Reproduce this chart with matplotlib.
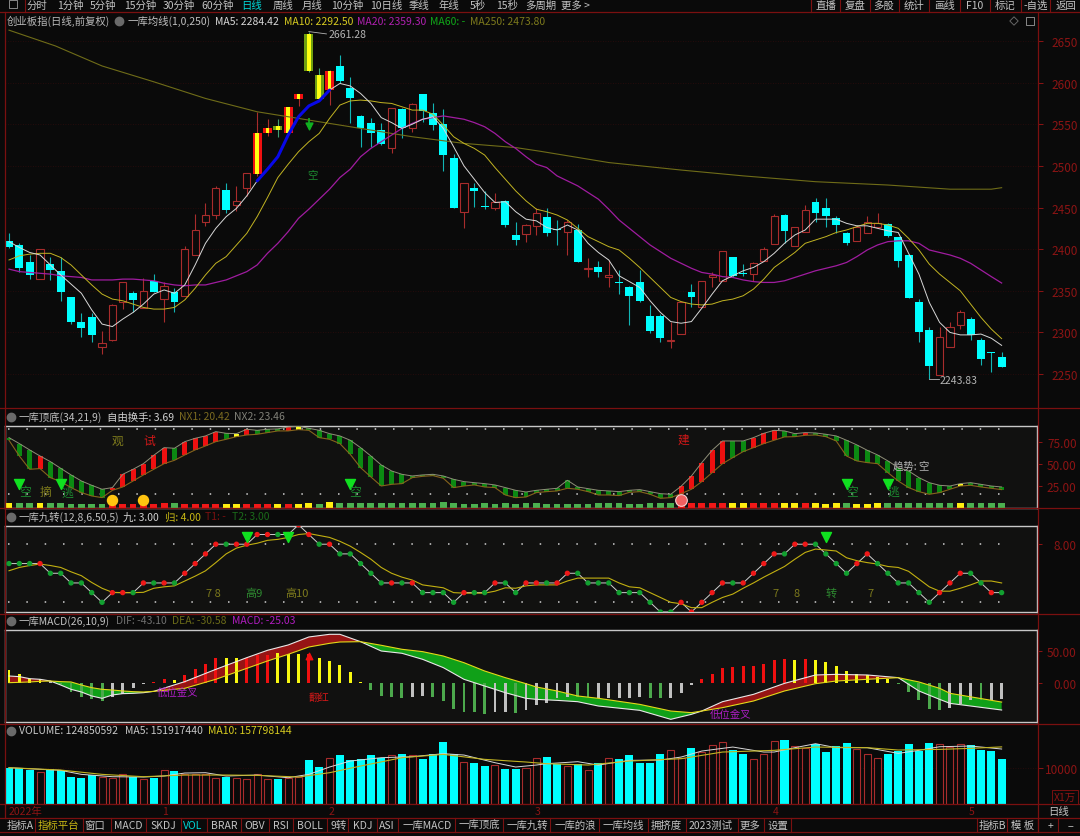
import matplotlib
matplotlib.use('Agg')
import matplotlib.pyplot as plt

plt.rcParams['font.family'] = ['Noto Sans CJK SC', 'DejaVu Sans']

opens = [2410,2405,2385,2364,2382,2374,2342,2313,2319,2282,
         2291,2337,2347,2329,2362,2340,2348,2344,2393,2433,
         2441,2471,2453,2474,2490,2540,2543,2540,2580,2614,
         2580,2591,2620,2593,2560,2551,2543,2521,2568,2546,
         2586,2564,2550,2509,2445,2473,2452,2450,2458,2417,
         2418,2428,2438,2424,2421,2423,2376,2378,2366,2360,
         2354,2360,2320,2320,2290,2298,2348,2330,2366,2362,
         2390,2371,2370,2386,2406,2441,2404,2421,2457,2450,
         2437,2419,2410,2419,2427,2430,2414,2393,2337,2303,
         2249,2282,2309,2316,2291,2276,2271]
closes = [2403,2377,2369,2400,2375,2349,2312,2305,2297,2287,
          2333,2360,2339,2350,2349,2356,2336,2400,2423,2441,
          2473,2447,2458,2492,2540,2545,2548,2571,2586,2658,
          2609,2614,2602,2581,2545,2539,2526,2569,2546,2574,
          2566,2549,2513,2450,2480,2470,2451,2457,2429,2411,
          2429,2444,2419,2423,2432,2384,2377,2373,2369,2359,
          2344,2338,2302,2293,2291,2336,2342,2362,2369,2398,
          2368,2370,2383,2400,2440,2422,2427,2447,2444,2440,
          2429,2407,2427,2433,2431,2416,2386,2341,2301,2260,
          2294,2306,2324,2297,2268,2275,2259]
highs = [2419,2407,2393,2400,2391,2391,2342,2323,2323,2302,
         2334,2361,2350,2365,2370,2361,2353,2404,2442,2455,
         2476,2480,2476,2492,2565,2556,2556,2571,2586,2661.28,
         2618,2615,2633,2607,2561,2557,2551,2569,2569,2575,
         2586,2575,2568,2514,2480,2480,2470,2468,2459,2432,
         2430,2449,2449,2435,2435,2430,2389,2386,2387,2375,
         2356,2375,2333,2322,2313,2336,2358,2362,2372,2398,
         2390,2382,2384,2402,2442,2442,2427,2453,2461,2462,
         2440,2421,2429,2440,2443,2431,2415,2394,2340,2306,
         2306,2313,2327,2319,2293,2276,2277]
lows = [2401,2373,2364,2364,2363,2338,2310,2295,2289,2274,
        2290,2328,2324,2329,2348,2313,2325,2344,2393,2428,
        2436,2443,2446,2464,2488,2536,2535,2540,2572,2613,
        2580,2573,2600,2552,2523,2523,2525,2515,2533,2541,
        2553,2543,2494,2449,2425,2451,2448,2447,2427,2405,
        2409,2417,2416,2405,2393,2384,2366,2366,2355,2346,
        2309,2336,2299,2289,2281,2298,2331,2330,2355,2362,
        2366,2368,2362,2386,2406,2407,2404,2421,2433,2427,
        2419,2405,2410,2419,2427,2415,2378,2341,2288,2243.83,
        2249,2282,2304,2291,2261,2252,2258]
hot_red = [24,25,27,28,31]
hot_green = [26,29,30]

ma5 = [2409,2402,2396,2393,2381,2369,2358,2347,2327,2310,
       2307,2316,2324,2334,2346,2351,2347,2357,2381,2407,
       2425,2439,2449,2464,2482,2496,2511,2537,2559,2572,
       2578,2591,2599,2596,2587,2575,2558,2552,2545,2550,
       2556,2559,2545,2523,2500,2484,2468,2456,2457,2445,
       2436,2434,2426,2423,2429,2423,2407,2396,2387,2368,
       2361,2354,2338,2324,2313,2311,2313,2329,2346,2362,
       2368,2374,2378,2385,2395,2407,2417,2423,2436,2436,
       2436,2431,2428,2428,2425,2422,2420,2395,2370,2336,
       2312,2300,2297,2297,2298,2293,2284.42]
ma10 = [2387,2392,2394,2395,2395,2390,2381,2369,2357,2346,
        2340,2338,2334,2330,2328,2328,2330,2339,2353,2369,
        2383,2391,2405,2419,2439,2462,2486,2502,2517,2529,
        2539,2557,2573,2578,2579,2578,2576,2575,2571,2567,
        2567,2562,2549,2535,2527,2521,2513,2498,2484,2470,
        2458,2448,2445,2441,2435,2425,2415,2409,2403,2399,
        2389,2378,2366,2354,2342,2337,2334,2333,2334,2338,
        2340,2344,2352,2364,2378,2387,2396,2407,2411,2415,
        2420,2423,2427,2431,2431,2429,2425,2413,2399,2382,
        2370,2360,2350,2334,2318,2304,2292.5]
ma20 = [2376,2373,2372,2371,2370,2368,2367,2366,2363,2363,
        2363,2364,2364,2363,2362,2359,2357,2356,2357,2357,
        2360,2363,2368,2373,2381,2395,2407,2421,2437,2448,
        2460,2472,2486,2496,2511,2521,2529,2537,2545,2551,
        2556,2558,2560,2558,2556,2552,2547,2539,2529,2521,
        2511,2502,2498,2488,2482,2476,2468,2460,2448,2435,
        2425,2415,2405,2397,2389,2383,2377,2372,2370,2367,
        2366,2363,2361,2360,2360,2362,2366,2370,2374,2377,
        2380,2384,2391,2399,2405,2409,2410,2410,2407,2399,
        2396,2393,2389,2383,2375,2367,2359.3]
ma250_x = [0,4.5,9,14,19,24,29,34,39,44,49,51.4,58,65,71,78,85,91,95,96]
ma250_y = [2663,2644,2620,2601,2581,2565,2555,2545,2535,2527,2522,2517.5,2504,2495,2488,2481,2477,2472,2472,2473.8]

top_line = [80.0,73.2,66.0,59.1,52.7,45.1,37.6,30.7,25.8,21.3,
            23.2,38.3,44.0,50.4,59.9,68.6,67.9,75.4,79.2,81.9,
            86.8,84.9,84.5,89.5,88.3,89.5,89.9,92.1,92.9,90.6,
            88.3,84.5,81.9,77.0,68.6,59.1,48.9,42.1,38.3,36.4,
            37.6,38.3,36.4,32.6,30.0,28.8,27.7,26.2,23.2,20.1,
            18.2,20.1,21.3,22.4,31.5,23.9,22.0,20.1,19.4,18.6,
            20.1,20.9,18.6,16.3,15.6,24.7,36.4,51.6,65.6,76.2,
            76.2,76.2,80.0,84.9,88.3,87.6,84.5,85.7,85.3,83.8,
            81.9,77.0,71.7,65.6,60.3,53.5,45.9,42.1,34.5,28.8,
            25.8,25.0,27.7,28.8,26.9,25.0,23.9]
bottom_line = [77.0,59.1,44.0,44.8,34.5,30.0,23.2,17.5,13.7,11.8,
               20.1,23.9,30.7,37.6,44.0,50.4,54.2,60.3,66.0,70.5,
               75.4,78.1,81.1,83.0,83.8,85.7,87.6,87.6,89.1,88.3,
               80.0,78.1,73.2,61.0,45.9,35.3,25.0,26.9,27.7,34.5,
               36.0,36.8,33.8,23.2,25.0,26.2,23.9,23.2,14.8,11.8,
               12.5,17.5,18.6,19.4,22.4,21.3,18.6,14.8,14.8,14.1,
               17.8,18.6,15.6,11.0,11.8,16.3,21.3,30.0,40.2,50.4,
               57.3,64.1,68.6,73.2,77.0,80.8,81.1,82.6,83.0,81.1,
               76.2,59.1,53.5,51.6,50.4,40.2,30.7,23.2,18.6,15.6,
               17.5,21.3,25.0,25.8,23.9,22.4,20.9]
band_colors = ('gggrgggggg' 'rrrrrrgrrr' 'rgyrgggryg' 'gggggggggg' 'gggggggggg'
               'gggggggggg' 'gggggrrrrr' 'ggrrrggrgg' 'gggggggggg' 'ggygggg')
square_colors = ('yggygggggg' 'rrrrrrgrrr' 'ryyrrryryy' 'gygggggggg' 'gggggggggg'
                 'gggggggggg' 'gggggrrrrr' 'yyrrryyryy' 'ygyyyggggg' 'ggygggg')
square_heights = [5.4,6.1,6.1,6.1,5.4,5.4,5.0,5.0,5.0,5.0,
                  4.6,4.6,4.6,4.6,5.0,6.1,6.1,5.0,5.0,5.0,
                  5.0,5.0,5.0,5.0,4.6,4.6,4.6,4.6,4.6,5.4,
                  5.0,6.5,6.2,6.2,5.8,5.8,5.8,5.8,5.8,5.8,
                  5.8,5.8,6.5,5.8,5.0,5.0,5.4,5.0,5.4,5.0,
                  5.4,5.8,5.0,5.0,5.0,5.0,5.0,5.8,5.8,5.8,
                  5.0,5.0,5.8,5.8,5.4,5.4,5.4,6.2,6.2,6.2,
                  5.8,5.8,5.4,5.4,6.2,6.2,6.2,6.2,6.2,5.0,
                  6.2,6.2,5.0,5.0,5.4,5.4,5.4,6.2,5.4,6.2,
                  6.2,6.2,6.2,6.2,5.4,5.4,5.4]

nine = [6,6,6,6,5,5,4,4,3,2,
        3,3,3,4,4,4,4,5,6,7,
        8,8,8,8,9,9,9,9,10,9,
        8,8,7,7,6,5,4,4,4,4,
        3,3,3,2,3,3,3,4,4,3,
        4,4,4,4,5,5,4,4,4,3,
        3,3,2,1,1,2,1,2,3,4,
        4,4,5,6,7,7,8,8,8,7,
        6,5,6,7,6,5,4,4,3,2,
        3,4,5,5,4,3,3]
nine_colors = ('gggrgggggg' 'rrgrgrgrrr' 'rgrrrrgrrr' 'grgggggrgr' 'ggggrggrgg'
               'rrgrrggggg' 'gggggrrrrr' 'grrrrgrrgg' 'ggrrgggggg' 'rrrggrg')
back_line = [5.26,5.6,5.8,5.95,5.8,5.6,5.15,4.75,4.05,3.45,
             3.03,3,3,3.03,3.45,3.6,3.7,4.2,4.7,5.25,
             6.1,7,7.6,7.9,8.1,8.4,8.5,8.7,9,9.1,
             8.9,8.7,8.3,7.8,7.15,6.45,5.6,5,4.6,4.3,
             3.8,3.65,3.5,3,2.95,2.95,2.95,3.15,3.5,3.45,
             3.7,3.8,3.8,3.8,4.2,4.5,4.5,4.5,4.5,4,
             3.6,3.5,3,2.5,2,1.85,1.45,1.45,2,2.5,
             2.85,3.45,4,4.6,5.15,5.7,6.45,7.15,7.5,7.4,
             7.3,6.6,6.3,6.1,5.95,5.7,5.6,5.2,4.4,3.6,
             3.15,3.15,3.45,3.8,4.2,4.2,4]

macd = [19.4,13.1,6.3,6.3,2.6,-2.6,-14.7,-22.6,-26.3,-28.9,
        -22.1,-18.4,-8.9,-2.6,1.6,5.3,4.2,12.1,22.1,30.0,
        39.4,38.4,38.4,38.4,43.1,43.1,46.3,44.7,44.7,44.7,
        38.4,34.2,27.9,16.8,1.1,-12.1,-21.0,-22.6,-23.7,-22.1,
        -21.0,-22.1,-28.9,-42.0,-45.7,-46.3,-48.9,-45.7,-46.3,-47.3,
        -43.6,-35.7,-31.5,-24.7,-22.1,-22.6,-22.6,-24.7,-24.7,-24.7,
        -23.7,-22.1,-23.7,-24.7,-23.7,-15.8,-4.2,5.3,14.2,22.6,
        24.7,26.3,26.3,28.9,35.2,36.8,35.2,36.8,35.2,32.6,
        26.3,18.4,13.1,12.1,9.5,6.3,-1.6,-14.2,-27.9,-42.0,
        -43.6,-39.4,-33.1,-27.9,-27.9,-27.9,-25.03]
macd_colors = ('yyyywggggg' 'wwwwrryrrr' 'ryyrrryyyr' 'yyyyyggggw' 'wggggggwwg'
               'wwwwwggwww' 'wwggwwwrrr' 'rrrrrryryy' 'yyyyyygggg' 'gwwwgww')

macd_x = [0,1,2,3,4,5,6,7,8,9,10,11,12,13,14,17,20,23,25,27,29,31,32,34,36,38,40,42,44,46,48,50,51,53,55,57,61,64,66,67,69,72,75,78,80,83,86,88,90,91,96]
dif = [10.5,9.5,6.3,5.3,2.6,-3.7,-10.5,-14.7,-21.0,-24.7,-19.4,-17.3,-16.8,-15.8,-13.7,1.6,21.0,39.4,51.0,59.4,72.0,76.2,76.2,64.6,49.9,46.3,36.8,23.7,5.3,-5.3,-15.8,-24.7,-26.3,-27.9,-30.0,-36.8,-43.6,-57.8,-49.9,-44.7,-30.0,-18.4,-1.1,12.1,13.1,12.1,7.9,-13.1,-26.3,-32.6,-43.1]
dea = [0,0.5,1.1,2.1,2.6,1.6,1.1,-3.7,-7.9,-10.5,-11.6,-13.1,-14.2,-14.7,-13.7,-8.9,5.3,22.6,34.2,44.7,56.2,62.0,64.1,64.6,58.9,52.6,48.9,42.0,31.5,18.4,7.9,-1.6,-6.8,-13.1,-21.0,-24.7,-34.2,-44.7,-47.3,-44.7,-39.4,-28.9,-13.1,-1.6,2.6,5.3,7.9,1.1,-8.9,-16.8,-30.58]

volume = [10000,10000,9350,8890,9720,9350,7500,7040,7870,7410,
          7220,8150,7500,6950,7220,9260,9070,8150,8150,8150,
          7220,7500,7220,6950,8150,6760,6950,7220,7410,12040,
          10280,12590,13430,12130,12320,13430,12780,13430,13700,13430,
          12500,13890,17220,13700,11670,11390,10370,10740,9540,9720,
          10000,12780,12960,11110,10460,10930,9350,11390,12590,12320,
          13430,11390,11390,13890,14820,12780,15560,14350,16210,17220,
          14820,13700,12320,13700,17410,17590,16020,15560,16480,14350,
          16020,16760,15280,13700,12690,13700,14630,16480,14630,16760,
          16480,15830,16480,16300,14910,14630,12485]
vol_up = [3,9,10,11,13,15,17,18,19,20,22,23,24,25,27,28,31,37,39,44,47,50,51,54,56,58,64,65,67,68,69,72,73,74,76,77,82,83,84,90,91,92]
vol_ma5_x = [0,5,7,10,13,15,17,19,21,24,27,29,31,33,36,39,42,44,47,49,51,52,55,57,60,63,65,67,70,73,74,76,78,80,83,86,88,90,93,96]
vol_ma5_y = [10000,9260,8150,7500,7410,7690,8520,8610,7690,7960,7220,8150,10190,11850,12780,13060,13890,13520,11390,10190,10740,11110,11670,10740,12040,12130,12960,14630,15740,14350,14350,15560,16670,15560,15560,13980,14820,15830,16020,15192]
vol_ma10_x = [0,5,9,13,17,21,24,28,31,34,38,42,46,50,52,56,60,65,69,74,78,83,86,90,93,96]
vol_ma10_y = [10000,9350,8150,7500,7960,7960,7870,7410,8610,10460,12780,13700,12320,11580,11110,10740,11850,12500,14350,14820,15740,15560,14910,15090,15370,15780]

price_ticks = [2650,2600,2550,2500,2450,2400,2350,2300,2250]
top_tabs = [('分时',37),('1分钟',70),('5分钟',103),('15分钟',140),('30分钟',179),('60分钟',218),('日线',252),
            ('周线',283),('月线',312),('10分钟',347),('10日线',386),('季线',419),('年线',449),('5秒',478),('15秒',507),
            ('多周期',541),('更多 >',575),('直播',826),('复盘',855),('多股',884),('统计',914),('画线',944),('F10',975),
            ('标记',1005),('-自选',1036),('返回',1066)]
top_seps = [25,811,840,870,899,929,960,990,1021,1050]
bottom_tabs = [('指标A',20),('指标平台',58),('窗口',95),('MACD',128),('SKDJ',163),('VOL',193),('BRAR',224),('OBV',255),
               ('RSI',281),('BOLL',310),('9转',339),('KDJ',363),('ASI',387),('一库MACD',427),('一库顶底',479),('一库九转',527),
               ('一库的浪',575),('一库均线',623),('拥挤度',666),('2023测试',711),('更多',750),('设置',778),
               ('指标B',992),('模 板',1023),('+',1050),('−',1070)]
bottom_seps = [35,83,111,146,181,207,241,269,293,327,348,377,398,455,503,550,599,648,686,738,764,791,977,1007,1038,1058]
month_labels = [('2022年',25),('1',165),('2',331),('3',538),('4',776),('5',972)]

BG = '#0a0a0a'
PANEL = '#111110'
AXIS_RED = '#8c1414'
LINE_RED = '#7a1010'
CYAN = '#00ffff'
UP = '#a82c2c'
GRAY = '#b4b4b4'
OLIVE = '#7d7a1c'
FS = 7.5

W, H = 1080, 837
fig = plt.figure(figsize=(W / 100, H / 100), dpi=100, facecolor=BG)
xs = list(range(len(closes)))


def panel(y0, y1, x0=5, x1=1038):
    ax = fig.add_axes([x0 / W, 1 - y1 / H, (x1 - x0) / W, (y1 - y0) / H])
    ax.set_facecolor(BG)
    ax.set_xlim((x0 - 9) / 10.34, (x1 - 9) / 10.34)
    ax.set_xticks([])
    for s in ax.spines.values():
        s.set_visible(False)
    return ax


def right_ticks(ax, ticks, labels):
    ax.set_yticks(ticks)
    ax.set_yticklabels(labels)
    ax.tick_params(axis='y', left=False, labelleft=False, right=True, labelright=True,
                   colors=AXIS_RED, length=3.5, width=0.7, pad=25, labelsize=8.5)
    for t in ax.yaxis.get_major_ticks():
        t.label2.set_ha('right')


def frame(ax):
    ax.set_facecolor(PANEL)
    for s in ax.spines.values():
        s.set_visible(True)
        s.set_color('#c8c8c8')
        s.set_linewidth(1.0)


# main price panel
ax = panel(27, 408)
ax.set_ylim(2210.4, 2668)
for p in price_ticks:
    ax.axhline(p, color='#2e0c0c', lw=0.6, ls=(0, (1, 2)), zorder=0)
for i in xs:
    o, c, h, l = opens[i], closes[i], highs[i], lows[i]
    low_b, high_b = min(o, c), max(o, c)
    if i in hot_red or i in hot_green:
        edge = '#f01010' if i in hot_red else '#6f9f10'
        ax.vlines(i, l, h, color=UP if i in hot_red else '#3f9f70', lw=0.8, zorder=2)
        ax.bar(i, high_b - low_b, bottom=low_b, width=0.85, color=edge, zorder=3)
        ax.bar(i, high_b - low_b, bottom=low_b, width=0.36, color='#ffff10', zorder=4)
    elif c >= o:
        ax.vlines(i, l, h, color=UP, lw=0.8, zorder=2)
        ax.bar(i, max(high_b - low_b, 1.2), bottom=low_b, width=0.7, facecolor=BG,
               edgecolor=UP, lw=0.8, zorder=3)
    else:
        ax.vlines(i, l, h, color='#12b4b4', lw=0.8, zorder=2)
        ax.bar(i, max(high_b - low_b, 1.2), bottom=low_b, width=0.76, color=CYAN, zorder=3)
ax.plot(ma250_x, ma250_y, color='#6f6c18', lw=0.8, zorder=5)
ax.plot(xs, ma20, color='#a01ca0', lw=0.9, zorder=5)
ax.plot(xs, ma10, color='#c2b422', lw=0.7, zorder=5)
ax.plot(xs, ma5, color='#d8d8d8', lw=0.7, zorder=6)
ax.plot(xs[24:32], ma5[24:32], color='#0808e8', lw=2.2, zorder=7, solid_capstyle='round')
ax.text(30.9, 2658.5, '2661.28', color=GRAY, fontsize=FS, va='center', zorder=8)
ax.plot([29, 30.7], [2661.28, 2658.5], color=GRAY, lw=0.6, zorder=8)
ax.text(91.8, 2243.33, '2243.83', color=GRAY, fontsize=FS, va='center', ha='center', zorder=8)
ax.plot([89, 89.9], [2243.83, 2243.83], color=GRAY, lw=0.6, zorder=8)
ax.scatter([29], [2548], marker='v', s=24, color='#10b020', zorder=8)
ax.vlines(29, 2548, 2558, color='#10b020', lw=1.2, zorder=8)
ax.text(29.3, 2490, '空', color='#1c8a30', fontsize=FS, ha='center', va='center', zorder=8)
right_ticks(ax, price_ticks, [str(p) for p in price_ticks])

# 一库顶底 panel
ax2 = panel(427, 509, x1=1037)
ax2.set_ylim(0, 93.2)
frame(ax2)
ax2.hlines([90, 16], -0.1, 96.5, color='#d0d0d0', lw=1.1, ls=(0, (1, 11)), zorder=1)
palette = {'g': '#0b8a12', 'r': '#ee1010', 'y': '#ffff20'}
for i in xs:
    ax2.bar(i, top_line[i] - bottom_line[i], bottom=bottom_line[i], width=0.48,
            color=palette[band_colors[i]], zorder=3)
ax2.plot(xs, top_line, color='#8f8f78', lw=0.7, zorder=4)
ax2.plot(xs, bottom_line, color='#86641c', lw=0.8, zorder=4)
square_palette = {'g': '#4cb050', 'r': '#f01818', 'y': '#ffee10'}
ax2.bar(xs, square_heights, width=0.66, color=[square_palette[c] for c in square_colors], zorder=3)
ax2.scatter([10, 13], [8.7, 8.7], s=52, color='#ffc410', zorder=5)
ax2.scatter([65], [8.7], s=70, color='#f06060', edgecolor='#f8d0d0', lw=0.8, zorder=5)
ax2.scatter([1, 5, 33, 81, 85], [27, 27, 27, 27, 27], marker='v', s=52, color='#10e020', zorder=5)
for label, i, v, col in [('空', 1.5, 18, '#1c8a30'), ('摘', 3.5, 19, OLIVE), ('逃', 5.6, 18, '#1c8a30'),
                         ('观', 10.5, 77, OLIVE), ('试', 13.6, 77, '#d01818'), ('空', 33.5, 18, '#1c8a30'),
                         ('建', 65.2, 78, '#d01818'), ('空', 81.5, 19, '#1c8a30'), ('逃', 85.5, 19, '#1c8a30')]:
    ax2.text(i, v, label, color=col, fontsize=FS + 1, ha='center', va='center', zorder=6)
ax2.text(85.5, 48.6, '趋势: 空', color=GRAY, fontsize=FS, ha='left', va='center', zorder=6)
right_ticks(ax2, [75, 50, 25], ['75.00', '50.00', '25.00'])

# 一库九转 panel
ax3 = panel(527, 613, x1=1037)
ax3.set_ylim(1, 9.88)
frame(ax3)
ax3.hlines([8, 2], -0.1, 96.5, color='#d0d0d0', lw=1.1, ls=(0, (1, 11)), zorder=1)
ax3.plot(xs, nine, color='#d0d0d0', lw=0.7, zorder=3)
ax3.plot(xs, back_line, color='#c2b010', lw=0.8, zorder=4)
ax3.scatter(xs, nine, s=8, color=['#f01818' if c == 'r' else '#12a030' for c in nine_colors], zorder=5)
ax3.scatter([23, 27, 79], [8.7, 8.7, 8.7], marker='v', s=52, color='#10e020', zorder=6)
for label, i, v, col in [('7 8', 19.8, 3.0, OLIVE), ('高9', 23.7, 3.0, '#2e8a30'), ('高10', 27.9, 3.0, OLIVE),
                         ('7', 74.1, 3.0, OLIVE), ('8', 76.2, 3.0, OLIVE), ('转', 79.5, 3.0, '#2e8a30'),
                         ('7', 83.3, 3.0, OLIVE)]:
    ax3.text(i, v, label, color=col, fontsize=FS + 0.5, ha='center', va='center', zorder=6)
right_ticks(ax3, [8], ['8.00'])

# 一库MACD panel
ax4 = panel(631, 723, x1=1037)
ax4.set_ylim(-62, 83)
frame(ax4)
ax4.fill_between(macd_x, dif, dea, where=[a >= b for a, b in zip(dif, dea)], interpolate=True,
                 color='#961414', lw=0, zorder=2)
ax4.fill_between(macd_x, dif, dea, where=[a <= b for a, b in zip(dif, dea)], interpolate=True,
                 color='#10a018', lw=0, zorder=2)
macd_palette = {'g': '#4ca84c', 'r': '#f01010', 'y': '#f8f810', 'w': '#c0c0c0'}
ax4.bar(xs, macd, width=0.28, color=[macd_palette[c] for c in macd_colors], zorder=3)
ax4.plot(macd_x, dif, color='#e8e8e8', lw=0.8, zorder=4)
ax4.plot(macd_x, dea, color='#e4d818', lw=0.8, zorder=4)
ax4.scatter([29], [42], marker='^', s=22, color='#f01010', zorder=5)
ax4.text(16.3, -14, '低位金叉', color='#b01ec8', fontsize=FS, ha='center', va='center', zorder=6)
ax4.text(30, -23, '翻红', color='#d01818', fontsize=FS, ha='center', va='center', zorder=6)
ax4.text(69.8, -50, '低位金叉', color='#b01ec8', fontsize=FS, ha='center', va='center', zorder=6)
right_ticks(ax4, [50, 0], ['50.00', '0.00'])

# volume panel
ax5 = panel(725, 804.7)
ax5.set_ylim(0, 22140)
ax5.axhline(10000, color='#2e0c0c', lw=0.6, ls=(0, (1, 2)), zorder=0)
for i in xs:
    if i in vol_up:
        ax5.bar(i, volume[i], width=0.68, facecolor=BG, edgecolor=UP, lw=0.8, zorder=2)
    else:
        ax5.bar(i, volume[i], width=0.78, color=CYAN, zorder=2)
ax5.plot(vol_ma5_x, vol_ma5_y, color='#d8d8d8', lw=0.7, zorder=4)
ax5.plot(vol_ma10_x, vol_ma10_y, color='#c2b422', lw=0.8, zorder=4)
right_ticks(ax5, [10000], ['10000'])

# chrome overlay
ov = fig.add_axes([0, 0, 1, 1], zorder=20)
ov.set_xlim(0, W)
ov.set_ylim(H, 0)
ov.axis('off')

for y in [13, 409, 509, 614.5, 724.7, 804.7, 819, 833]:
    ov.plot([0, W], [y, y], color=LINE_RED, lw=0.9)
ov.plot([5, 5], [13, 819], color=LINE_RED, lw=0.9)
ov.plot([1038, 1038], [13, 833], color=LINE_RED, lw=0.9)
for x in top_seps:
    ov.plot([x, x], [0, 13], color=LINE_RED, lw=0.8)
for x in bottom_seps:
    ov.plot([x, x], [819, 833], color=LINE_RED, lw=0.8)

for label, x in top_tabs:
    ov.text(x, 5.5, label, color='#00d8d8' if label == '日线' else '#c4c4c4', fontsize=FS, ha='center', va='center')
for label, x in bottom_tabs:
    col = {'VOL': '#00d8d8', '指标平台': '#c8b814'}.get(label, '#c4c4c4')
    ov.text(x, 826, label, color=col, fontsize=FS, ha='center', va='center')
for label, x in month_labels:
    ov.text(x, 812, label, color=AXIS_RED, fontsize=FS, ha='center', va='center')
ov.text(1059, 812, '日线', color='#c4c4c4', fontsize=FS, ha='center', va='center')
ov.text(1065, 798, 'X1万', color=AXIS_RED, fontsize=7.5, ha='center', va='center',
        bbox=dict(facecolor=BG, edgecolor=LINE_RED, lw=0.7, pad=1.2))


def header(y, items):
    for label, x, col in items:
        ov.text(x, y, label, color=col, fontsize=FS, ha='left', va='center')


header(21.5, [('创业板指(日线,前复权)', 7, '#b8b8b8'), ('一库均线(1,0,250)', 128, '#c0c0c0'),
              ('MA5: 2284.42', 215, '#d8d8d8'), ('MA10: 2292.50', 284, '#d8cc20'),
              ('MA20: 2359.30', 357, '#b020b0'), ('MA60: -', 430, '#10a818'), ('MA250: 2473.80', 470, OLIVE)])
header(417.5, [('一库顶底(34,21,9)', 19, '#c0c0c0'), ('自由换手: 3.69', 107, '#d0d0d0'),
               ('NX1: 20.42', 179, '#7a6a20'), ('NX2: 23.46', 234, '#808078')])
header(517.5, [('一库九转(12,8,6.50,5)', 19, '#c0c0c0'), ('九: 3.00', 123, '#d0d0d0'), ('归: 4.00', 165, '#c8b814'),
               ('T1: -', 205, '#7a1010'), ('T2: 3.00', 232, '#1a6a1a')])
header(621.5, [('一库MACD(26,10,9)', 19, '#c0c0c0'), ('DIF: -43.10', 116, '#707070'), ('DEA: -30.58', 172, '#6a6a18'),
               ('MACD: -25.03', 232, '#b01cc0')])
header(731.5, [('VOLUME: 124850592', 19, '#c8c8c8'), ('MA5: 151917440', 125, '#c8c8c8'), ('MA10: 157798144', 208, '#d8cc20')])
ov.scatter([11, 11, 11, 11, 119], [417.5, 517.5, 621.5, 731.5, 21.5], s=36, color='#6a6a6a')
ov.scatter([1014], [22], marker='D', s=18, facecolor='none', edgecolor='#666666', lw=0.7)
ov.scatter([1030], [22], marker='s', s=36, facecolor='none', edgecolor='#888888', lw=0.7)
ov.scatter([13], [5], marker='s', s=30, facecolor='none', edgecolor='#888888', lw=0.7)

fig.savefig('out.png', dpi=100, facecolor=BG)
